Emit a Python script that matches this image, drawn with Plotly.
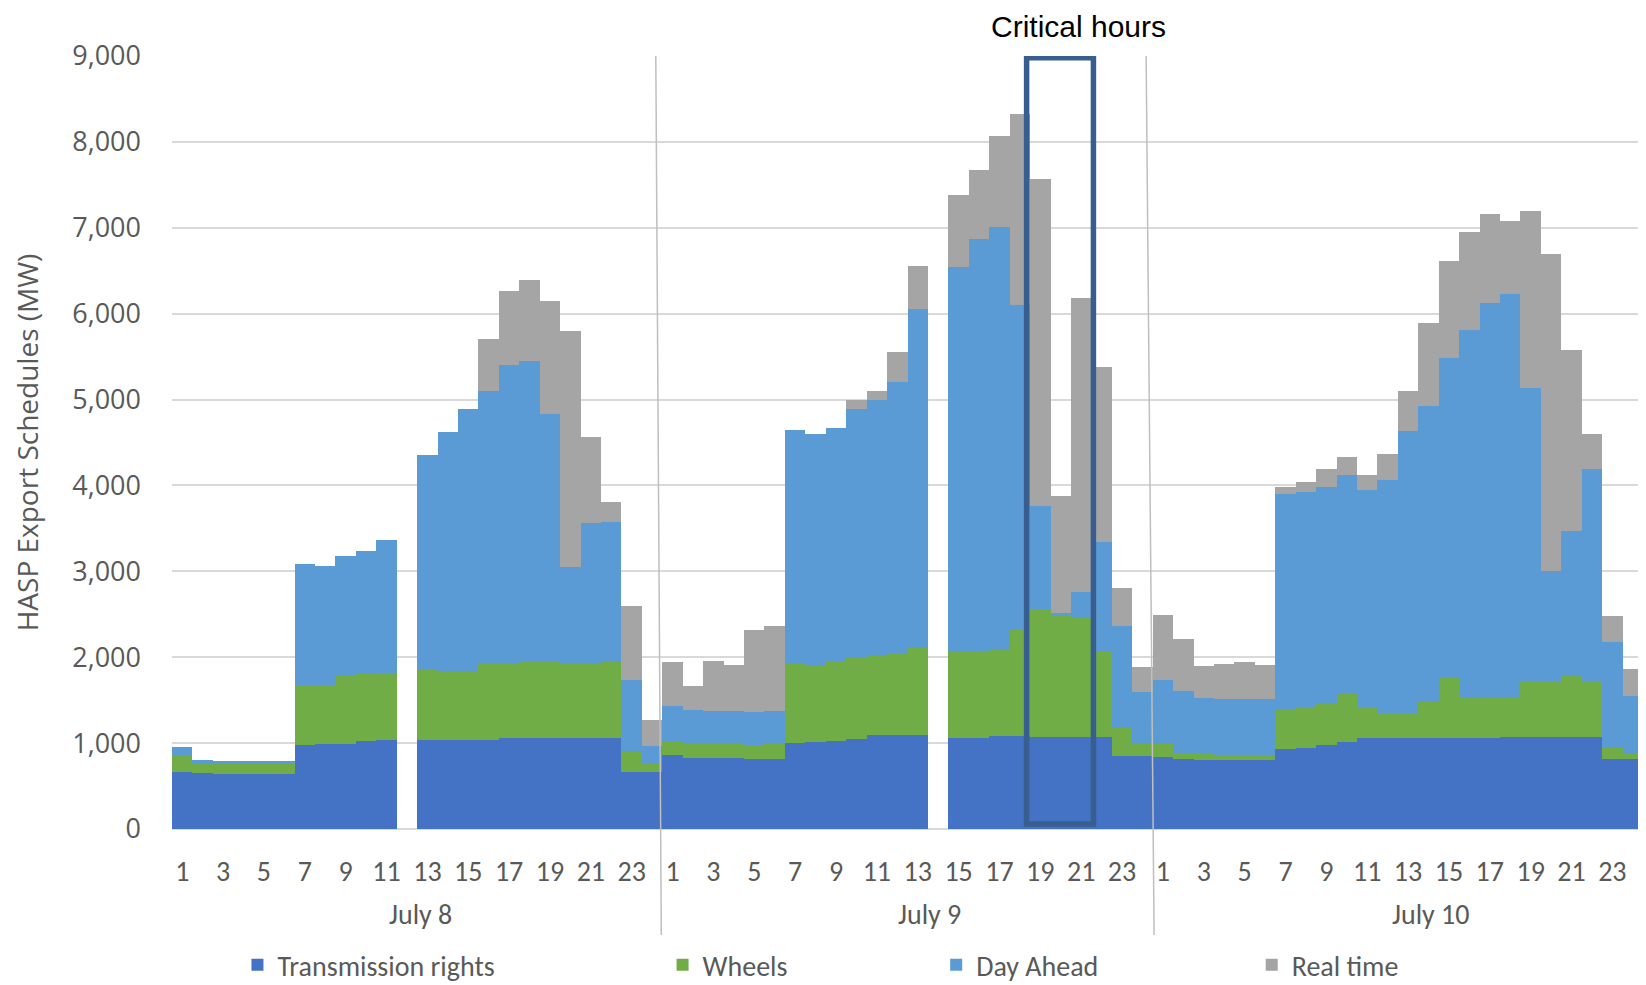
import plotly.graph_objects as go

# ---------------- data ----------------
days = ["July 8", "July 9", "July 10"]
hours = list(range(1, 25))

# July 8 (hour 12 missing)
trans_jul8 = [660, 650, 640, 640, 640, 640, 980, 985, 995, 1025, 1040, None,
              1040, 1040, 1040, 1040, 1055, 1055, 1055, 1055, 1055, 1055, 660, 660]
wheels_jul8 = [202, 109, 123, 123, 123, 123, 685, 689, 782, 783, 781, None,
               817, 795, 795, 893, 878, 891, 891, 878, 869, 891, 233, 99]
dayahead_jul8 = [89, 45, 27, 27, 27, 27, 1415, 1393, 1406, 1433, 1541, None,
                 2500, 2786, 3053, 3161, 3473, 3500, 2884, 1112, 1639, 1634, 839, 205]
realtime_jul8 = [0, 0, 0, 0, 0, 0, 0, 0, 0, 0, 0, None,
                 0, 0, 0, 611, 857, 942, 1322, 2759, 1004, 224, 866, 308]

# July 9 (hour 14 missing)
trans_jul9 = [857, 829, 829, 829, 811, 811, 1000, 1011, 1023, 1046, 1097, 1097,
              1097, None, 1057, 1057, 1086, 1086, 1074, 1074, 1074, 1074, 846, 846]
wheels_jul9 = [166, 171, 171, 171, 172, 189, 931, 886, 937, 943, 920, 949,
               1006, None, 1000, 1012, 1000, 1228, 1486, 1423, 1383, 983, 337, 154]
dayahead_jul9 = [406, 389, 371, 371, 377, 377, 2720, 2703, 2709, 2897, 2983, 3154,
                 3954, None, 4492, 4800, 4920, 3783, 1206, 20, 303, 1280, 1177, 600]
realtime_jul9 = [514, 280, 583, 543, 954, 983, 0, 0, 0, 114, 97, 354,
                 503, None, 834, 805, 1063, 2223, 3805, 1357, 3423, 2040, 451, 286]

# July 10
trans_jul10 = [834, 819, 809, 799, 799, 799, 933, 948, 983, 1018, 1058, 1058,
               1058, 1058, 1058, 1058, 1058, 1068, 1068, 1068, 1068, 1068, 819, 819]
wheels_jul10 = [159, 65, 60, 60, 60, 60, 457, 467, 482, 556, 362, 298,
                298, 422, 705, 471, 471, 461, 660, 660, 710, 660, 124, 50]
dayahead_jul10 = [745, 720, 660, 660, 660, 660, 2513, 2508, 2517, 2547, 2532, 2706,
                  3277, 3450, 3724, 4280, 4593, 4702, 3401, 1281, 1688, 2468, 1232, 675]
realtime_jul10 = [755, 611, 373, 407, 422, 393, 79, 114, 214, 214, 164, 307,
                  471, 959, 1132, 1147, 1043, 844, 2066, 3684, 2107, 407, 308, 323]

series_names = ["Transmission rights", "Wheels", "Day Ahead", "Real time"]
series_colors = ["#4472C4", "#70AD47", "#5B9BD5", "#A5A5A5"]
y_ticks = [0, 1000, 2000, 3000, 4000, 5000, 6000, 7000, 8000, 9000]
y_tick_labels = ["0", "1,000", "2,000", "3,000", "4,000", "5,000", "6,000", "7,000", "8,000", "9,000"]
critical_label = "Critical hours"
y_title = "HASP Export Schedules (MW)"

# ---------------- build ----------------
series_values = [
    trans_jul8 + trans_jul9 + trans_jul10,
    wheels_jul8 + wheels_jul9 + wheels_jul10,
    dayahead_jul8 + dayahead_jul9 + dayahead_jul10,
    realtime_jul8 + realtime_jul9 + realtime_jul10,
]
n = len(days) * len(hours)
xpos = list(range(n))
tickvals = [i for i in xpos if hours[i % 24] % 2 == 1]
ticktext = [str(hours[i % 24]) for i in tickvals]

narrow_font = "Carlito, 'Liberation Sans Narrow', 'Open Sans', sans-serif"
grey_text = "#595959"

fig = go.Figure()
legend_ids = ["legend", "legend2", "legend3", "legend4"]
for name, vals, col, lg in zip(series_names, series_values, series_colors, legend_ids):
    fig.add_trace(go.Bar(
        x=xpos, y=vals, name=name, marker=dict(color=col, line=dict(width=0)),
        legend=lg, hoverinfo="skip",
    ))

legend_x = [0.0445, 0.3335, 0.5195, 0.7340]
legend_common = dict(orientation="h", y=-0.176, yanchor="middle", xanchor="left",
                     bgcolor="rgba(0,0,0,0)", font=dict(family=narrow_font, size=28, color=grey_text),
                     itemclick=False, itemdoubleclick=False)
legend_layout = {lg: dict(x=lx, **legend_common) for lg, lx in zip(legend_ids, legend_x)}

# the page body adds an 8px offset, so margins are reduced by 8px on top/left
fig.update_layout(
    width=1646, height=985,
    margin=dict(l=164, r=11, t=47.6, b=164, autoexpand=False),
    paper_bgcolor="white", plot_bgcolor="white",
    barmode="stack", bargap=0,
    showlegend=True,
    **legend_layout,
)

fig.update_xaxes(
    range=[-0.5, n - 0.5], tickmode="array", tickvals=tickvals, ticktext=ticktext,
    tickfont=dict(family=narrow_font, size=28, color=grey_text),
    ticks="", showgrid=False, zeroline=False, showline=False,
    ticklabelstandoff=23,
)
fig.update_yaxes(
    range=[0, 9000], tickmode="array", tickvals=y_ticks, ticktext=y_tick_labels,
    tickfont=dict(family="'Open Sans', sans-serif", size=27, color=grey_text),
    showgrid=True, gridcolor="#D9D9D9", gridwidth=2,
    zeroline=True, zerolinecolor="#D9D9D9", zerolinewidth=2,
    ticks="", ticklabelstandoff=30,
    title=dict(text=y_title, font=dict(family="'Open Sans', sans-serif", size=28, color=grey_text),
               standoff=34),
)

# day separator lines (slightly slanted as in the scanned original)
for xt, xb in [(23.18, 23.45), (47.18, 47.57)]:
    fig.add_shape(type="line", xref="x", yref="paper", x0=xt, y0=1.0, x1=xb, y1=-0.137,
                  line=dict(color="#BFBFBF", width=1.5), layer="above")

# day labels
for d, xd in zip(days, [11.64, 36.6, 61.1]):
    fig.add_annotation(x=xd, xref="x", y=-0.111, yref="paper", text=d, showarrow=False,
                       font=dict(family=narrow_font, size=28, color=grey_text),
                       xanchor="center", yanchor="middle")

# critical hours box
fig.add_shape(type="rect", xref="x", yref="y", x0=41.33, x1=44.6, y0=58, y1=8980,
              line=dict(color="#375E8E", width=5.5), fillcolor="rgba(0,0,0,0)", layer="above")
fig.add_annotation(x=0.616, xref="paper", y=1.0383, yref="paper", text=critical_label,
                   showarrow=False, xanchor="center", yanchor="middle", borderpad=0,
                   font=dict(family="'Liberation Sans', Arial, sans-serif", size=30, color="black"))

fig.write_html("out.html")
